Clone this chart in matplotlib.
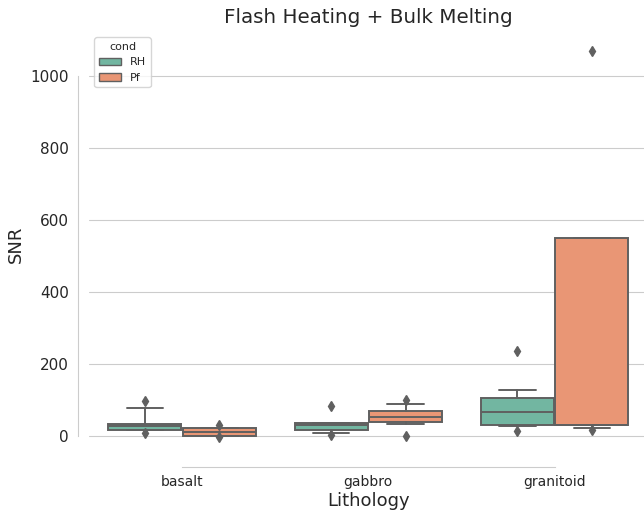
import matplotlib
matplotlib.use("Agg")
import matplotlib.pyplot as plt
import matplotlib.patches as mpatches
import seaborn as sns

# box statistics (SNR)
lithology = ["basalt", "gabbro", "granitoid"]
conds = ["RH", "Pf"]
med = {"RH": [27, 30, 68], "Pf": [11, 54, 30]}
q1 = {"RH": [16, 18, 30], "Pf": [0, 39, 30]}
q3 = {"RH": [34, 37, 105], "Pf": [23, 70, 550]}
whislo = {"RH": [16, 7, 29], "Pf": [0, 32, 23]}
whishi = {"RH": [78, 37, 127], "Pf": [23, 89, 550]}
fliers = {"RH": [[8, 96], [4, 83], [14, 236]],
          "Pf": [[-3, 30], [1, 101], [16, 1068]]}

sns.set_style("whitegrid")
plt.rcParams["font.family"] = ["DejaVu Sans"]
pal = sns.color_palette("Set2", 2)
colors = [sns.desaturate(c, 0.75) for c in pal]
gray = "#606060"

fig = plt.figure(figsize=(6.44, 5.12), dpi=100)
ax = fig.add_axes([0.138, 0.109, 0.868, 0.829])

width = 0.4
for j, c in enumerate(conds):
    stats = []
    for i in range(len(lithology)):
        stats.append({"med": med[c][i], "q1": q1[c][i], "q3": q3[c][i],
                      "whislo": whislo[c][i], "whishi": whishi[c][i],
                      "fliers": fliers[c][i]})
    pos = [i - 0.2 + 0.4 * j for i in range(len(lithology))]
    ax.bxp(stats, positions=pos, widths=width * 0.98, patch_artist=True,
           manage_ticks=False,
           boxprops=dict(facecolor=colors[j], edgecolor=gray, linewidth=1.4),
           medianprops=dict(color=gray, linewidth=1.4),
           whiskerprops=dict(color=gray, linewidth=1.4),
           capprops=dict(color=gray, linewidth=1.4),
           flierprops=dict(marker="d", markerfacecolor=gray, markeredgecolor=gray,
                           markersize=5))

ax.set_xticks(range(len(lithology)))
ax.set_xticklabels(lithology, fontsize=12)
ax.set_xlim(-0.5, 2.5)
ax.set_ylim(-56, 1122)
ax.tick_params(axis="y", labelsize=11)
ax.tick_params(axis="x", pad=2.5)
ax.xaxis.grid(False)
ax.set_xlabel("Lithology", fontsize=13, labelpad=2)
ax.set_ylabel("SNR", fontsize=13)
ax.set_title("Flash Heating + Bulk Melting", fontsize=14.3)

handles = [mpatches.Patch(facecolor=colors[j], edgecolor=gray, label=c)
           for j, c in enumerate(conds)]
ax.legend(handles=handles, title="cond", loc="upper left", fontsize=8,
          title_fontsize=8)

sns.despine(ax=ax, offset=7.5, trim=True)

fig.savefig("out.png", dpi=100)
